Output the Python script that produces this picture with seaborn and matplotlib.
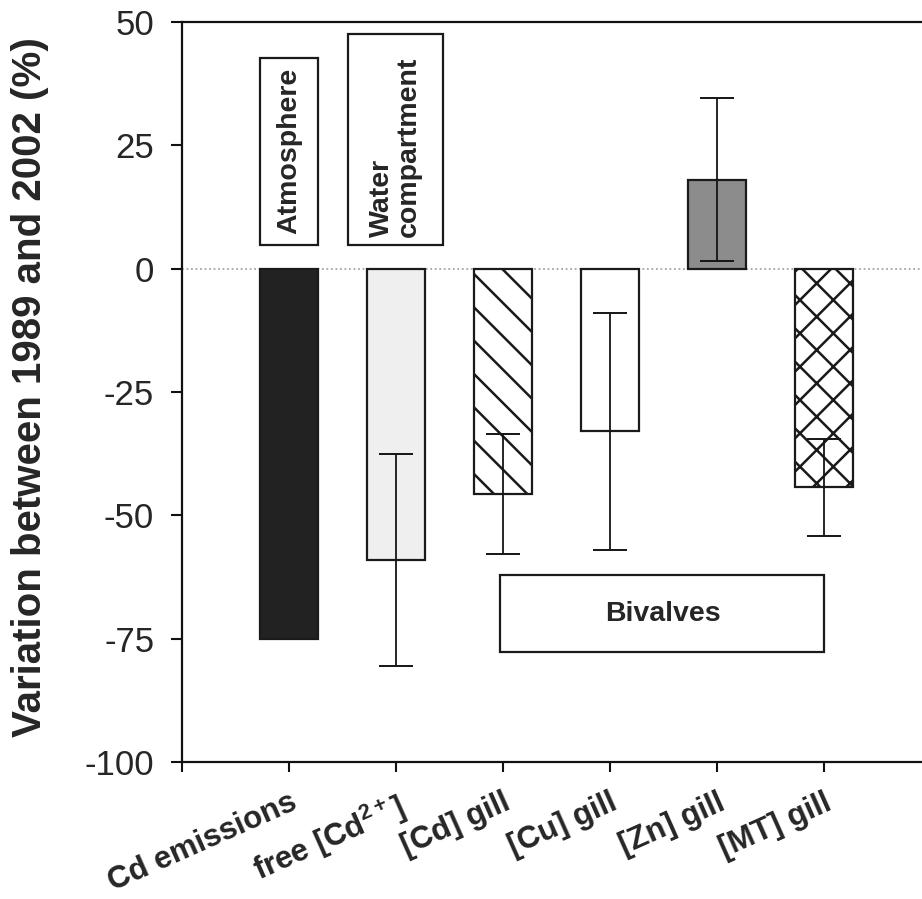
import matplotlib
matplotlib.use('Agg')
import matplotlib.pyplot as plt
import matplotlib.transforms as mtransforms
from matplotlib.patches import Rectangle
import seaborn as sns
import pandas as pd

# ---- data ----
categories = ['Cd emissions', 'free [Cd$^{2+}$]', '[Cd] gill', '[Cu] gill', '[Zn] gill', '[MT] gill']
values = [-75.0, -59.0, -45.7, -33.0, 18.0, -44.3]
errors = [0.0, 21.5, 12.2, 24.0, 16.5, 9.8]
yticks = [50, 25, 0, -25, -50, -75, -100]
ylabel = 'Variation between 1989 and 2002 (%)'

# ---- styles ----
bar_colors = ['#222222', '#efefef', '#ffffff', '#ffffff', '#8c8c8c', '#ffffff']
bar_hatches = ['', '', '\\', '', '', 'x']

sns.set_theme(style='white')
plt.rcParams['font.family'] = ['Liberation Sans', 'DejaVu Sans']
plt.rcParams['mathtext.fontset'] = 'custom'
plt.rcParams['mathtext.rm'] = 'Liberation Sans:bold'
plt.rcParams['mathtext.it'] = 'Liberation Sans:bold'
plt.rcParams['mathtext.bf'] = 'Liberation Sans:bold'
plt.rcParams['hatch.linewidth'] = 1.8
plt.rcParams['hatch.color'] = '#1a1a1a'

fig = plt.figure(figsize=(9.22, 8.99), dpi=100)
ax = fig.add_axes([0.1974, 0.1524, 0.8124, 0.8231])

df = pd.DataFrame({'category': categories, 'value': values})
sns.barplot(data=df, x='category', y='value', order=categories, hue='category',
            hue_order=categories, palette=dict(zip(categories, bar_colors)),
            legend=False, width=0.54, edgecolor='#1a1a1a', linewidth=1.6,
            errorbar=None, ax=ax, zorder=2)

for cont, h in zip(ax.containers, bar_hatches):
    for p in cont:
        p.set_hatch(h)

xs = [i for i, e in enumerate(errors) if e > 0]
ax.errorbar(x=xs, y=[values[i] for i in xs], yerr=[errors[i] for i in xs],
            fmt='none', ecolor='#151515', elinewidth=1.3, capsize=12.5,
            capthick=1.4, zorder=4)

ax.axhline(0, color='#a5a5a5', ls=(0, (1, 1.5)), lw=1.3, zorder=1)

ax.set_ylim(-100, 50)
ax.set_xlim(-1, 6)
ax.set_yticks(yticks)
ax.set_yticklabels([str(t) for t in yticks], fontsize=25)
ax.set_xticks(range(-1, len(categories)))
ax.set_xticklabels([''] + categories, fontsize=22.5, fontweight='bold',
                   rotation=24, ha='right', rotation_mode='anchor', va='top')
offset = mtransforms.ScaledTranslation(0.10, 0, fig.dpi_scale_trans)
for lab in ax.get_xticklabels():
    lab.set_transform(lab.get_transform() + offset)

ax.tick_params(axis='y', direction='out', length=8, width=1.5, pad=12, color='#111111', left=True)
ax.tick_params(axis='x', direction='out', length=7.5, width=1.5, pad=11, color='#111111', bottom=True)
ax.set_xlabel('')
ax.set_ylabel(ylabel, fontsize=29, fontweight='bold', va='center')
ax.yaxis.set_label_coords(-0.203, 0.507)

for side in ['left', 'top', 'bottom', 'right']:
    ax.spines[side].set_visible(True)
    ax.spines[side].set_color('#111111')
    ax.spines[side].set_linewidth(1.6)

# annotation boxes
box_kw = dict(facecolor='white', edgecolor='#1a1a1a', linewidth=1.6, zorder=3)
ax.add_patch(Rectangle((-0.27, 4.9), 0.54, 37.8, **box_kw))
ax.text(0.0, 23.8, 'Atmosphere', rotation=90, ha='center', va='center',
        fontsize=20.5, fontweight='bold', zorder=5)
ax.add_patch(Rectangle((0.55, 4.9), 0.89, 42.7, **box_kw))
ax.text(0.995, 6.4, 'Water\ncompartment', rotation=90, ha='center', va='bottom',
        multialignment='left', fontsize=20.5, fontweight='bold', zorder=5,
        linespacing=1.05)
ax.add_patch(Rectangle((1.97, -77.7), 3.03, 15.7, **box_kw))
ax.text(3.49, -69.9, 'Bivalves', ha='center', va='center',
        fontsize=20.5, fontweight='bold', zorder=5)

fig.savefig('out.png', dpi=100)
